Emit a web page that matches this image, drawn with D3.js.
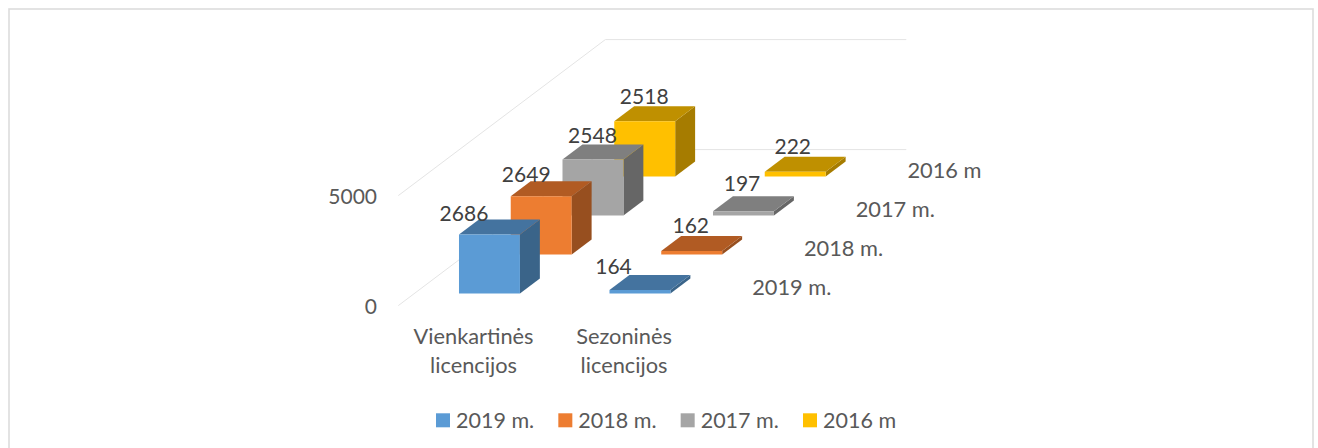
<!DOCTYPE html>
<html><head><meta charset="utf-8">
<script src="https://cdn.jsdelivr.net/npm/d3@7"></script>
<style>html,body{margin:0;padding:0;background:#fff}svg{display:block}text{font-family:Lato,"Open Sans",sans-serif}</style>
</head><body><div id="c"></div>
<script>
const categories = [["Vienkartinės","licencijos"],["Sezoninės","licencijos"]];
const categoryKeys = ["Vienkartinės licencijos","Sezoninės licencijos"];
const seriesNames = ["2019 m.","2018 m.","2017 m.","2016 m"];
const valuesOneOff = [2686,2649,2548,2518];
const valuesSeasonal = [164,162,197,222];
const yTicks = [0,5000];
const frontColors = ["#5b9bd5","#ed7d31","#a5a5a5","#ffc000"];
const topColors = ["#44739f","#b15b23","#7f7f7f","#bf9000"];
const sideColors = ["#3a6489","#974f1f","#666666","#a67c00"];
// label nudges relative to the top-left corner of each bar's front face
const labelDx = [[5,15.5,30,30],[4,29.5,29,28]];
const labelDy = [[-14,-14.5,-16.5,-17],[-15.5,-18.5,-20,-18]];

const W=1318,H=448;
const svg=d3.select("#c").append("svg").attr("width",W).attr("height",H);
svg.append("rect").attr("x",9).attr("y",9).attr("width",1304).attr("height",H).attr("fill","#fff").attr("stroke","#dcdcdc").attr("stroke-width",1.6);

const origin={x:398.3,y:305.6}, depthVec={x:207,y:-156};
const xScale=d3.scaleBand().domain(categoryKeys).range([0,301]).paddingInner(0.595).paddingOuter(0.2975);
const zScale=d3.scaleBand().domain(seriesNames).range([0,1]).paddingInner(0.615).paddingOuter(0.3075);
const yScale=d3.scaleLinear().domain([0,5000]).range([0,110]);
const P=(x,z,y)=>[origin.x+x+z*depthVec.x, origin.y+z*depthVec.y-yScale(y)];
const path=pts=>"M"+pts.map(p=>p.join(",")).join("L")+"Z";

const grid=svg.append("g").attr("fill","none").attr("stroke","#e4e4e4").attr("stroke-width",1);
yTicks.forEach(t=>{
  grid.append("path").attr("d","M"+[P(0,0,t),P(0,1,t),P(301,1,t)].map(p=>p.join(",")).join("L"));
});
// value axis labels
svg.selectAll(".yl").data(yTicks).join("text").attr("class","yl")
  .attr("x",377).attr("y",d=>P(0,0,d)[1]+8.5).attr("text-anchor","end")
  .attr("font-size",21).attr("fill","#595959").text(d=>d);

const bars=[];
seriesNames.forEach((s,si)=>categoryKeys.forEach((c,ci)=>{
  bars.push({s,si,c,ci,v:(ci===0?valuesOneOff:valuesSeasonal)[si]});
}));
bars.sort((a,b)=>b.si-a.si||a.ci-b.ci);
const barG=svg.append("g");
bars.forEach(b=>{
  const x0=xScale(b.c),x1=x0+xScale.bandwidth(),z0=zScale(b.s),z1=z0+zScale.bandwidth();
  const g=barG.append("g");
  g.append("path").attr("d",path([P(x1,z0,0),P(x1,z1,0),P(x1,z1,b.v),P(x1,z0,b.v)])).attr("fill",sideColors[b.si]);
  g.append("path").attr("d",path([P(x0,z0,b.v),P(x1,z0,b.v),P(x1,z1,b.v),P(x0,z1,b.v)])).attr("fill",topColors[b.si]);
  g.append("path").attr("d",path([P(x0,z0,0),P(x1,z0,0),P(x1,z0,b.v),P(x0,z0,b.v)])).attr("fill",frontColors[b.si]);
});
bars.forEach(b=>{
  const p=P(xScale(b.c),zScale(b.s),b.v);
  svg.append("text").attr("x",p[0]+labelDx[b.ci][b.si]).attr("y",p[1]+labelDy[b.ci][b.si])
    .attr("text-anchor","middle").attr("font-size",21).attr("fill","#404040").text(b.v);
});
// category labels
categories.forEach((lines,i)=>{
  const cx=origin.x+xScale(categoryKeys[i])+xScale.bandwidth()/2;
  lines.forEach((t,j)=>svg.append("text").attr("x",cx).attr("y",344+j*29)
    .attr("text-anchor","middle").attr("font-size",21.8).attr("fill","#595959").text(t));
});
// series labels along the depth axis
seriesNames.forEach(s=>{
  const p=P(301,zScale(s)+zScale.bandwidth()/2,0);
  svg.append("text").attr("x",p[0]+27).attr("y",p[1]+9).attr("font-size",21.8).attr("fill","#595959").text(s);
});
// legend
const legendX=d3.scalePoint().domain(seriesNames).range([436,803]);
seriesNames.forEach((s,i)=>{
  svg.append("rect").attr("x",legendX(s)).attr("y",413.3).attr("width",14).attr("height",14).attr("fill",frontColors[i]);
  svg.append("text").attr("x",legendX(s)+20).attr("y",427.5).attr("font-size",21.5).attr("fill","#595959").text(s);
});
</script></body></html>
